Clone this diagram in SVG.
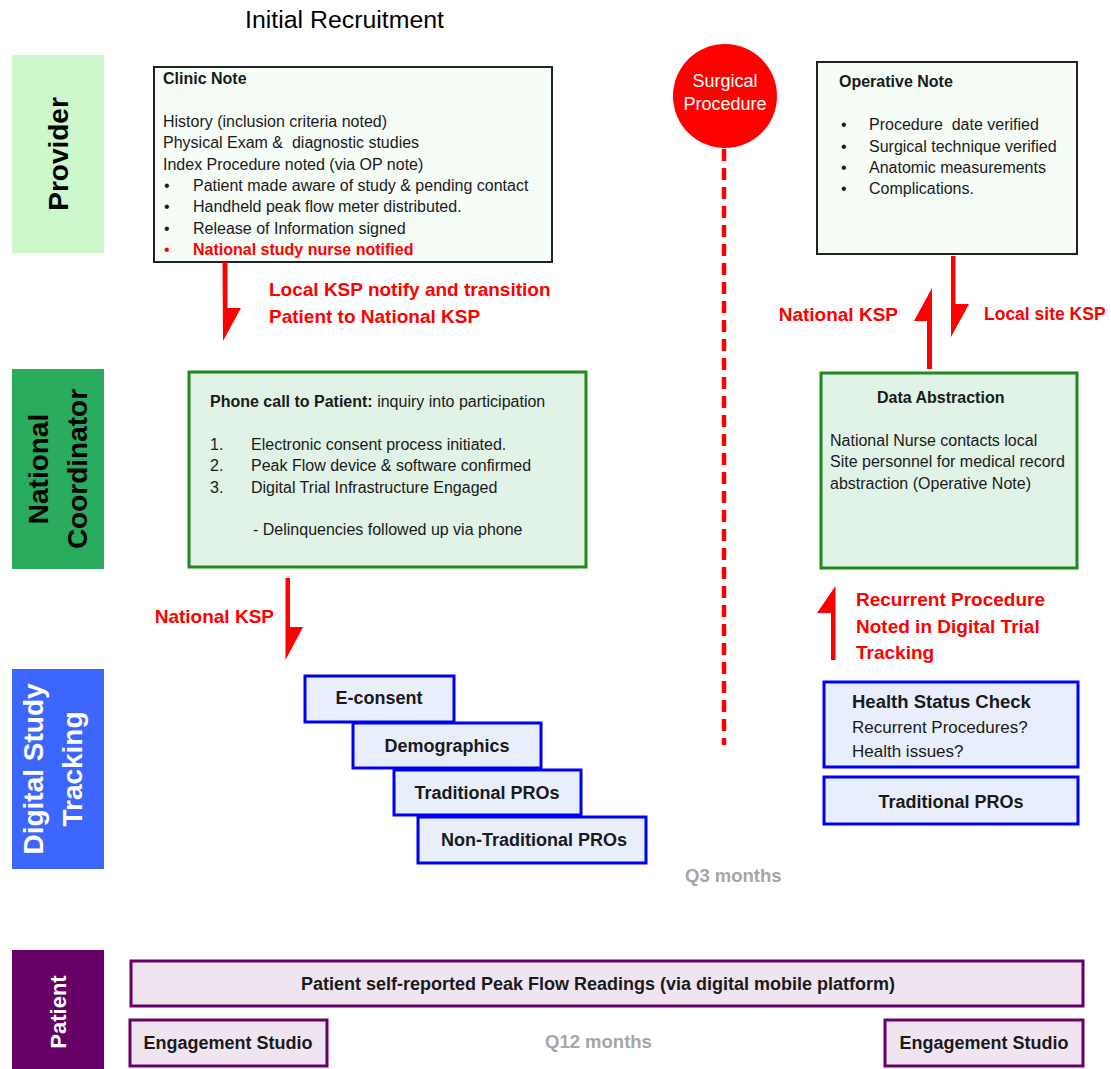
<svg xmlns="http://www.w3.org/2000/svg" width="1111" height="1069" viewBox="0 0 1111 1069">
<style>
text{font-family:"Liberation Sans",Arial,sans-serif;white-space:pre;}
.lane{font-weight:bold;font-size:28px;}
.body{font-size:16px;fill:#1a1a1a;}
.hd{font-size:16px;font-weight:bold;fill:#1a1a1a;}
.red{font-size:19px;font-weight:bold;fill:#ff0000;}
.note{fill:#f6fcf6;stroke:#222;stroke-width:2;}
.gbox{fill:#e1f2e6;stroke:#1e8a1e;stroke-width:3;}
.bbox{fill:#e8eefc;stroke:#0000f0;stroke-width:3;}
.pbox{fill:#f0e4f0;stroke:#660066;stroke-width:3;}
.bt{font-size:18px;font-weight:bold;fill:#1a1a1a;text-anchor:middle;}
.gray{font-size:18.5px;font-weight:bold;fill:#a6a6a6;}
.arrow{fill:#ff0000;}
</style>

<text x="245" y="28" font-size="23" fill="#000" textLength="199" lengthAdjust="spacingAndGlyphs">Initial Recruitment</text>

<g id="lane-provider">
<rect x="12" y="55" width="92" height="198" fill="#ccf8cc"/>
<text class="lane" transform="translate(68,154) rotate(-90)" text-anchor="middle" fill="#000">Provider</text>
</g>
<g id="lane-national">
<rect x="12" y="369" width="92" height="200" fill="#2aac5e"/>
<text class="lane" transform="translate(48,469) rotate(-90)" text-anchor="middle" fill="#000">National</text>
<text class="lane" transform="translate(87,469) rotate(-90)" text-anchor="middle" fill="#000">Coordinator</text>
</g>
<g id="lane-digital">
<rect x="12" y="669" width="92" height="200" fill="#3d66ff"/>
<text class="lane" transform="translate(43,769) rotate(-90)" text-anchor="middle" fill="#fff">Digital Study</text>
<text class="lane" transform="translate(82,769) rotate(-90)" text-anchor="middle" fill="#fff">Tracking</text>
</g>
<g id="lane-patient">
<rect x="12" y="950" width="92" height="119" fill="#660066"/>
<text transform="translate(66,1012) rotate(-90)" text-anchor="middle" font-size="22" font-weight="bold" fill="#fff">Patient</text>
</g>

<g id="clinic-note">
<rect class="note" x="154" y="67" width="398" height="195"/>
<text class="hd" x="163" y="84" font-size="15">Clinic Note</text>
<text class="body" x="163" y="127">History (inclusion criteria noted)</text>
<text class="body" x="163" y="148">Physical Exam &amp;  diagnostic studies</text>
<text class="body" x="163" y="170">Index Procedure noted (via OP note)</text>
<text class="body" x="164" y="191">•</text><text class="body" x="193" y="191">Patient made aware of study &amp; pending contact</text>
<text class="body" x="164" y="212">•</text><text class="body" x="193" y="212">Handheld peak flow meter distributed.</text>
<text class="body" x="164" y="234">•</text><text class="body" x="193" y="234">Release of Information signed</text>
<text x="164" y="255" font-size="16" fill="#ff0000">•</text><text x="193" y="255" font-size="16" font-weight="bold" fill="#ff0000">National study nurse notified</text>
</g>

<g id="surgical-procedure">
<circle cx="725" cy="96" r="52" fill="#ff0000"/>
<text x="725" y="87" font-size="18" fill="#fff" text-anchor="middle">Surgical</text>
<text x="725" y="110" font-size="18" fill="#fff" text-anchor="middle">Procedure</text>
</g>

<g id="operative-note">
<rect class="note" x="817" y="62" width="260" height="192"/>
<text class="hd" x="839" y="87">Operative Note</text>
<text class="body" x="841" y="130">•</text><text class="body" x="869" y="130">Procedure  date verified</text>
<text class="body" x="841" y="152">•</text><text class="body" x="869" y="152">Surgical technique verified</text>
<text class="body" x="841" y="173">•</text><text class="body" x="869" y="173">Anatomic measurements</text>
<text class="body" x="841" y="194">•</text><text class="body" x="869" y="194">Complications.</text>
</g>

<g id="phone-call">
<rect class="gbox" x="189" y="372" width="397" height="195"/>
<text x="210" y="407" font-size="16" fill="#1a1a1a"><tspan font-weight="bold">Phone call to Patient:</tspan> inquiry into participation</text>
<text class="body" x="210" y="450">1.</text><text class="body" x="251" y="450">Electronic consent process initiated.</text>
<text class="body" x="210" y="471">2.</text><text class="body" x="251" y="471">Peak Flow device &amp; software confirmed</text>
<text class="body" x="210" y="493">3.</text><text class="body" x="251" y="493">Digital Trial Infrastructure Engaged</text>
<text class="body" x="253" y="535">- Delinquencies followed up via phone</text>
</g>

<g id="data-abstraction">
<rect class="gbox" x="821" y="373" width="256" height="195"/>
<text class="hd" x="877" y="403">Data Abstraction</text>
<text class="body" x="830" y="446">National Nurse contacts local</text>
<text class="body" x="830" y="467">Site personnel for medical record</text>
<text class="body" x="830" y="489">abstraction (Operative Note)</text>
</g>

<g id="e-consent"><rect class="bbox" x="305" y="676" width="149" height="46"/><text class="bt" x="379" y="704">E-consent</text></g>
<g id="demographics"><rect class="bbox" x="353" y="723" width="188" height="45"/><text class="bt" x="447" y="752">Demographics</text></g>
<g id="traditional-pros"><rect class="bbox" x="394" y="770" width="187" height="45"/><text class="bt" x="487" y="799">Traditional PROs</text></g>
<g id="non-traditional-pros"><rect class="bbox" x="418" y="817" width="228" height="46"/><text class="bt" x="534" y="846">Non-Traditional PROs</text></g>

<g id="health-status">
<rect class="bbox" x="824" y="682" width="254" height="85"/>
<text x="852" y="708" font-size="18.5" font-weight="bold" fill="#1a1a1a">Health Status Check</text>
<text x="852" y="733" font-size="17" fill="#1a1a1a">Recurrent Procedures?</text>
<text x="852" y="757" font-size="17" fill="#1a1a1a">Health issues?</text>
</g>
<g id="traditional-pros-2"><rect class="bbox" x="824" y="777" width="254" height="47"/><text class="bt" x="951" y="808">Traditional PROs</text></g>

<text class="gray" x="685" y="882">Q3 months</text>

<g id="peak-flow"><rect class="pbox" x="131" y="961" width="952" height="45"/><text class="bt" x="598" y="990" font-size="17">Patient self-reported Peak Flow Readings (via digital mobile platform)</text></g>
<g id="engagement-1"><rect class="pbox" x="130" y="1020" width="197" height="46"/><text class="bt" x="228" y="1049">Engagement Studio</text></g>
<g id="engagement-2"><rect class="pbox" x="885" y="1020" width="198" height="46"/><text class="bt" x="984" y="1049">Engagement Studio</text></g>
<text class="gray" x="545" y="1048">Q12 months</text>

<g id="connectors">
<line x1="724" y1="149" x2="724" y2="745" stroke="#ff0000" stroke-width="4.5" stroke-dasharray="12 7"/>
<polygon class="arrow" points="222.5,262 227.5,262 227.5,308 241,308 223,341"/>
<polygon class="arrow" points="951,256 955.5,256 955.5,304 969,304 951,337"/>
<polygon class="arrow" points="927,369 932,369 932,288 914,321 927,321"/>
<polygon class="arrow" points="285.5,578 290,578 290,627 303,627 285.5,660"/>
<polygon class="arrow" points="831,660 835.5,660 835.5,586 817,613 831,613"/>
<text class="red" x="269" y="296">Local KSP notify and transition</text>
<text class="red" x="269" y="323">Patient to National KSP</text>
<text class="red" x="898" y="321" text-anchor="end">National KSP</text>
<text x="984" y="320" font-size="17.5" font-weight="bold" fill="#ff0000">Local site KSP</text>
<text class="red" x="274" y="623" text-anchor="end">National KSP</text>
<text class="red" x="856" y="606">Recurrent Procedure</text>
<text class="red" x="856" y="633">Noted in Digital Trial</text>
<text class="red" x="856" y="659">Tracking</text>
</g>
</svg>
